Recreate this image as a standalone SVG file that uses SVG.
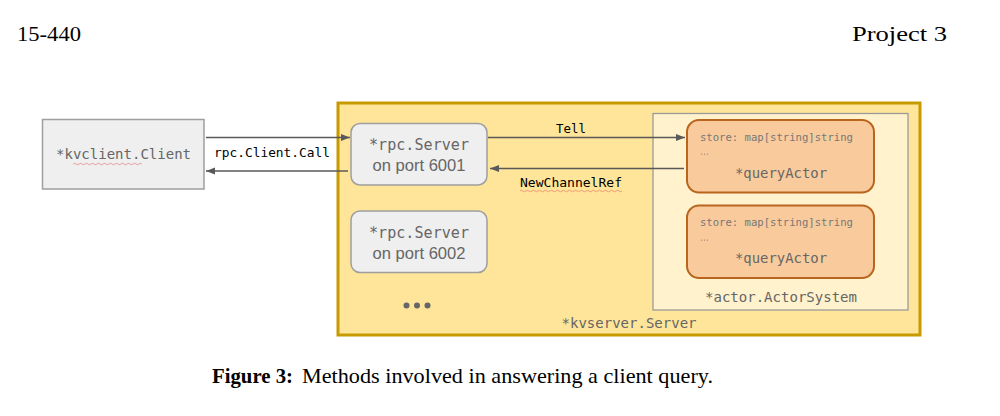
<svg xmlns="http://www.w3.org/2000/svg" width="1000" height="416" viewBox="0 0 1000 416">
<defs>
<style>
.page{font-family:"Liberation Serif","DejaVu Serif",serif;fill:#000;font-size:21px}
.mono{font-family:"DejaVu Sans Mono","Liberation Mono",monospace}
.lbl{fill:#666;font-size:14px}
.sans{font-family:"Liberation Sans",Arial,sans-serif;fill:#666;font-size:16.5px}
.conn{stroke:#595959;stroke-width:1.3;fill:none}
.clab{font-family:"DejaVu Sans Mono","Liberation Mono",monospace;font-size:13px;fill:#000}
.gray{fill:#efefef;stroke:#9e9e9e;stroke-width:1.5}
.actor{fill:#f9cb9c;stroke:#b9651e;stroke-width:2}
.small{font-family:"DejaVu Sans Mono","Liberation Mono",monospace;font-size:10.5px;fill:#777}
.spell{stroke:#e06060;stroke-width:0.8;fill:none;opacity:0.7}
</style>
<marker id="ah" viewBox="0 0 10 10" refX="10" refY="5" markerWidth="9" markerHeight="9" markerUnits="userSpaceOnUse" orient="auto">
<path d="M0,1 L10,5 L0,9 Z" fill="#595959"/>
</marker>
</defs>
<rect width="1000" height="416" fill="#fff"/>
<text class="page" x="17" y="41" textLength="64" lengthAdjust="spacingAndGlyphs">15-440</text>
<text class="page" x="852" y="41" textLength="95" lengthAdjust="spacingAndGlyphs">Project 3</text>

<g id="kvserver">
<rect x="338" y="103" width="582" height="232" fill="#ffe599" stroke="#c79a00" stroke-width="3"/>
<text class="mono lbl" x="629" y="328" text-anchor="middle" textLength="135" lengthAdjust="spacingAndGlyphs">*kvserver.Server</text>
</g>

<g id="actorsystem">
<rect x="653" y="113.5" width="255" height="196.5" fill="#fff2cc" stroke="#9a9a9a" stroke-width="1.3"/>
<text class="mono lbl" x="781" y="302" text-anchor="middle" textLength="152" lengthAdjust="spacingAndGlyphs">*actor.ActorSystem</text>
</g>

<g id="kvclient">
<rect class="gray" x="42.5" y="119.5" width="161.5" height="69.5"/>
<text class="mono lbl" x="123.5" y="159" text-anchor="middle" textLength="135" lengthAdjust="spacingAndGlyphs">*kvclient.Client</text>
<path class="spell" d="M73,164 q1.5,-1.5 3,0 t3,0 t3,0 t3,0 t3,0 t3,0 t3,0 t3,0 t3,0 t3,0 t3,0 t3,0 t3,0 t3,0 t3,0 t3,0 t3,0 t3,0 t3,0 t3,0 t3,0 t3,0 t3,0"/>
</g>

<g id="rpc6001">
<rect class="gray" x="351" y="123.5" width="136" height="61.5" rx="9"/>
<text class="mono lbl" x="419" y="150" text-anchor="middle" textLength="100" lengthAdjust="spacingAndGlyphs" style="font-size:15px">*rpc.Server</text>
<text class="sans" x="419" y="171" text-anchor="middle" textLength="93" lengthAdjust="spacingAndGlyphs">on port 6001</text>
</g>

<g id="rpc6002">
<rect class="gray" x="351" y="211" width="136" height="61.5" rx="9"/>
<text class="mono lbl" x="419" y="238" text-anchor="middle" textLength="100" lengthAdjust="spacingAndGlyphs" style="font-size:15px">*rpc.Server</text>
<text class="sans" x="419" y="259" text-anchor="middle" textLength="93" lengthAdjust="spacingAndGlyphs">on port 6002</text>
</g>

<g id="more" fill="#666">
<circle cx="406.5" cy="305.5" r="3"/>
<circle cx="417" cy="305.5" r="3"/>
<circle cx="427.5" cy="305.5" r="3"/>
</g>

<g id="queryActor1">
<rect class="actor" x="687" y="120" width="187" height="72.5" rx="12"/>
<text class="small" x="700" y="141" textLength="153" lengthAdjust="spacingAndGlyphs">store: map[string]string</text>
<text class="small" x="700" y="155" textLength="9" lengthAdjust="spacingAndGlyphs">...</text>
<text class="mono lbl" x="781" y="178" text-anchor="middle" textLength="92" lengthAdjust="spacingAndGlyphs">*queryActor</text>
</g>

<g id="queryActor2">
<rect class="actor" x="687" y="205.5" width="187" height="72.5" rx="12"/>
<text class="small" x="700" y="226" textLength="153" lengthAdjust="spacingAndGlyphs">store: map[string]string</text>
<text class="small" x="700" y="241" textLength="9" lengthAdjust="spacingAndGlyphs">...</text>
<text class="mono lbl" x="781" y="263" text-anchor="middle" textLength="92" lengthAdjust="spacingAndGlyphs">*queryActor</text>
</g>

<g id="connectors">
<line class="conn" x1="206" y1="137.5" x2="350" y2="137.5" marker-end="url(#ah)"/>
<line class="conn" x1="348" y1="171" x2="206" y2="171" marker-end="url(#ah)"/>
<line class="conn" x1="488" y1="137.5" x2="685" y2="137.5" marker-end="url(#ah)"/>
<line class="conn" x1="684" y1="168.5" x2="490" y2="168.5" marker-end="url(#ah)"/>
<text class="clab" x="214" y="157" textLength="116" lengthAdjust="spacingAndGlyphs">rpc.Client.Call</text>
<text class="clab" x="556" y="133" textLength="30" lengthAdjust="spacingAndGlyphs">Tell</text>
<text class="clab" x="520" y="187" textLength="102" lengthAdjust="spacingAndGlyphs">NewChannelRef</text>
<path class="spell" d="M520,191 q1.5,-1.5 3,0 t3,0 t3,0 t3,0 t3,0 t3,0 t3,0 t3,0 t3,0 t3,0 t3,0 t3,0 t3,0 t3,0 t3,0 t3,0 t3,0 t3,0 t3,0 t3,0 t3,0 t3,0 t3,0 t3,0 t3,0 t3,0 t3,0 t3,0 t3,0 t3,0 t3,0 t3,0 t3,0 t3,0"/>
</g>

<text class="page" x="212" y="383"><tspan font-weight="bold" textLength="81" lengthAdjust="spacingAndGlyphs">Figure 3:</tspan><tspan x="302" textLength="411" lengthAdjust="spacingAndGlyphs">Methods involved in answering a client query.</tspan></text>
</svg>
